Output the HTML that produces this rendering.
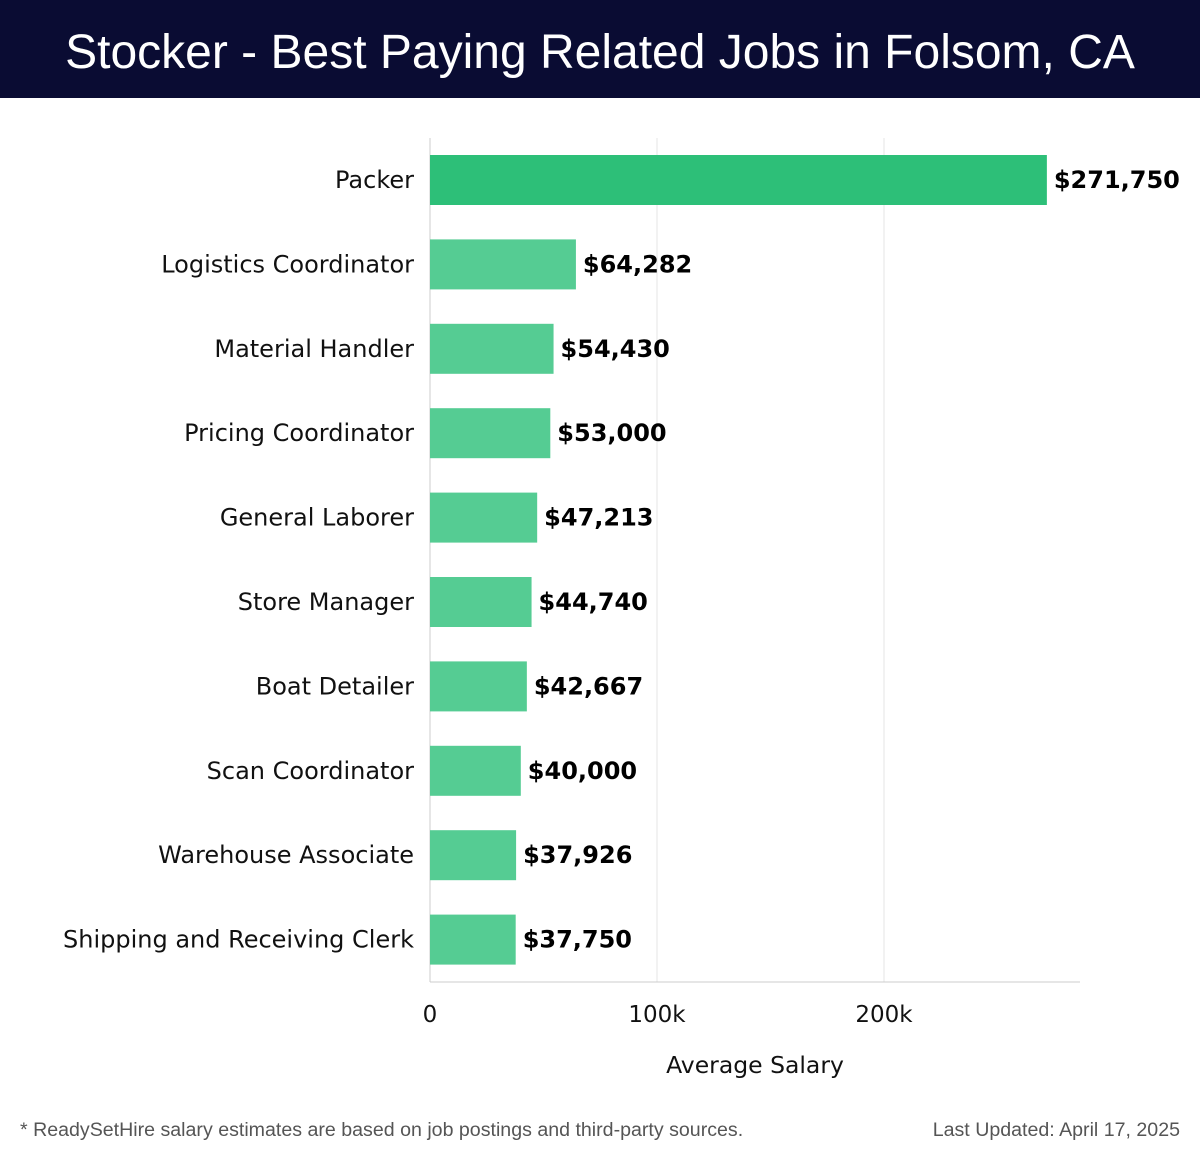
<!DOCTYPE html>
<html><head><meta charset="utf-8"><style>
body{margin:0;width:1200px;height:1158px;background:#fff;font-family:"Liberation Sans","DejaVu Sans",sans-serif;overflow:hidden;position:relative}
#title{position:absolute;left:0;top:0;width:1200px;height:98px;background:#0a0c33;color:#fff;font-size:48px;text-align:center;line-height:106px}
.foot{position:absolute;top:1119px;font-size:19.6px;color:#555}
svg text{font-family:"DejaVu Sans","Liberation Sans",sans-serif}
</style></head><body>
<div id="title">Stocker - Best Paying Related Jobs in Folsom, CA</div>
<svg id="chart" width="1200" height="1100" style="position:absolute;left:0;top:0"></svg>
<div class="foot" style="left:20px">* ReadySetHire salary estimates are based on job postings and third-party sources.</div>
<div class="foot" style="right:20px">Last Updated: April 17, 2025</div>
<script>
const categories=["Packer","Logistics Coordinator","Material Handler","Pricing Coordinator","General Laborer","Store Manager","Boat Detailer","Scan Coordinator","Warehouse Associate","Shipping and Receiving Clerk"];
const values=[271750,64282,54430,53000,47213,44740,42667,40000,37926,37750];
const labels=["$271,750","$64,282","$54,430","$53,000","$47,213","$44,740","$42,667","$40,000","$37,926","$37,750"];
const ticks=[0,100000,200000];
const tickLabels=["0","100k","200k"];
const NS="http://www.w3.org/2000/svg";
const svg=document.getElementById('chart');
const x=v=>430+v*0.00227;
const y=i=>180+i*84.4;
function mk(t,a,txt){const e=document.createElementNS(NS,t);for(const k in a)e.setAttribute(k,a[k]);if(txt!=null)e.textContent=txt;svg.appendChild(e);return e;}
ticks.forEach((t,i)=>{
const g=mk('line',{x1:x(t),x2:x(t),y1:138,y2:982,stroke:i==0?'#ccc':'#e5e5e5','stroke-width':1});


const l=mk('text',{x:x(t),y:1022,'text-anchor':'middle','font-size':23,fill:'#111'},tickLabels[i]);


});
const ax=mk('line',{x1:430,x2:1080,y1:982,y2:982,stroke:'#ccc'});


const at=mk('text',{x:755,y:1073,'text-anchor':'middle','font-size':23.5,fill:'#111'},'Average Salary');


categories.forEach((c,i)=>{
const b=mk('rect',{x:x(0),y:y(i)-25,width:x(values[i])-x(0),height:50,fill:i==0?'#2dbf78':'#55cc93'});


const t=mk('text',{x:414,y:y(i)+8,'text-anchor':'end','font-size':24,fill:'#111'},c);


const v=mk('text',{x:x(values[i])+7,y:y(i)+8,'font-size':24,'font-weight':'bold',fill:'#000'},labels[i]);


});
</script>
</body></html>
